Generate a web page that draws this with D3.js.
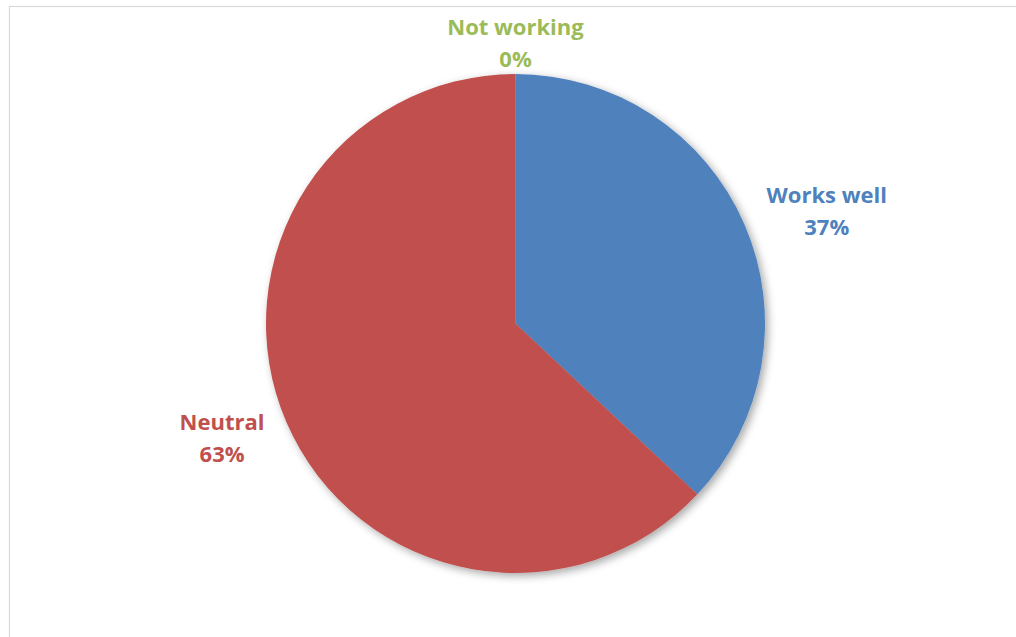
<!DOCTYPE html>
<html>
<head>
<meta charset="utf-8">
<script src="https://cdn.jsdelivr.net/npm/d3@7/dist/d3.min.js"></script>
<style>
  html, body { margin: 0; padding: 0; background: #fff; }
  svg { display: block; }
</style>
</head>
<body>
<svg id="chart" width="1016" height="637"></svg>
<script>
// Survey response shares (percent)
const categories = ["Works well", "Neutral", "Not working"];
const values = [37, 63, 0];
const colors = ["#4f81bd", "#c0504d", "#9bbb59"];

const width = 1016, height = 637;
const cx = 515.5, cy = 323.5, radius = 249.5;

const svg = d3.select("#chart");

// chart area frame (runs off the right and bottom edges)
svg.append("rect")
  .attr("x", 9.5).attr("y", 6.5)
  .attr("width", width + 20).attr("height", height + 20)
  .attr("fill", "#fff")
  .attr("stroke", "#d9d9d9")
  .attr("stroke-width", 1.2);

// soft outer shadow under the pie
const defs = svg.append("defs");
const f = defs.append("filter").attr("id", "pieShadow")
  .attr("x", "-20%").attr("y", "-20%").attr("width", "140%").attr("height", "140%");
f.append("feDropShadow")
  .attr("dx", 3).attr("dy", 3).attr("stdDeviation", 4.5)
  .attr("flood-color", "#000").attr("flood-opacity", 0.35);

const data = categories.map((c, i) => ({ name: c, value: values[i], color: colors[i] }));

const pie = d3.pie().sort(null).value(d => d.value);
const arcs = pie(data);
const arc = d3.arc().innerRadius(0).outerRadius(radius);

const g = svg.append("g").attr("transform", `translate(${cx},${cy})`);

g.append("g").attr("filter", "url(#pieShadow)")
  .selectAll("path")
  .data(arcs.filter(a => a.value > 0))
  .join("path")
  .attr("d", arc)
  .attr("fill", d => d.data.color);

// data labels outside the pie: category name over percentage, centred as a block
const total = d3.sum(values);
const labelR = radius + 24;
const lineGap = 32.5;

arcs.forEach(a => {
  const mid = (a.startAngle + a.endAngle) / 2;
  const s = Math.sin(mid), c = Math.cos(mid);
  const ax = labelR * s, ay = -labelR * c;
  const pct = Math.round(a.data.value / total * 100) + "%";
  const t = g.append("text")
    .attr("text-anchor", "middle")
    .attr("font-family", "'Open Sans', Lato, sans-serif")
    .attr("font-weight", "bold")
    .attr("font-size", 22)
    .attr("fill", a.data.color);
  const l1 = t.append("tspan").text(a.data.name);
  const l2 = t.append("tspan").text(pct);
  const w = Math.max(l1.node().getComputedTextLength(), l2.node().getComputedTextLength());
  let x = ax, base1;
  if (s > 0.3) { x = ax + w / 2; base1 = ay - 7.25 - 12 * c; }
  else if (s < -0.3) { x = ax - w / 2; base1 = ay - 7.25 - 12 * c; }
  else { base1 = ay - 15.5; }
  l1.attr("x", x).attr("y", base1);
  l2.attr("x", x).attr("y", base1 + lineGap);
});
</script>
</body>
</html>
